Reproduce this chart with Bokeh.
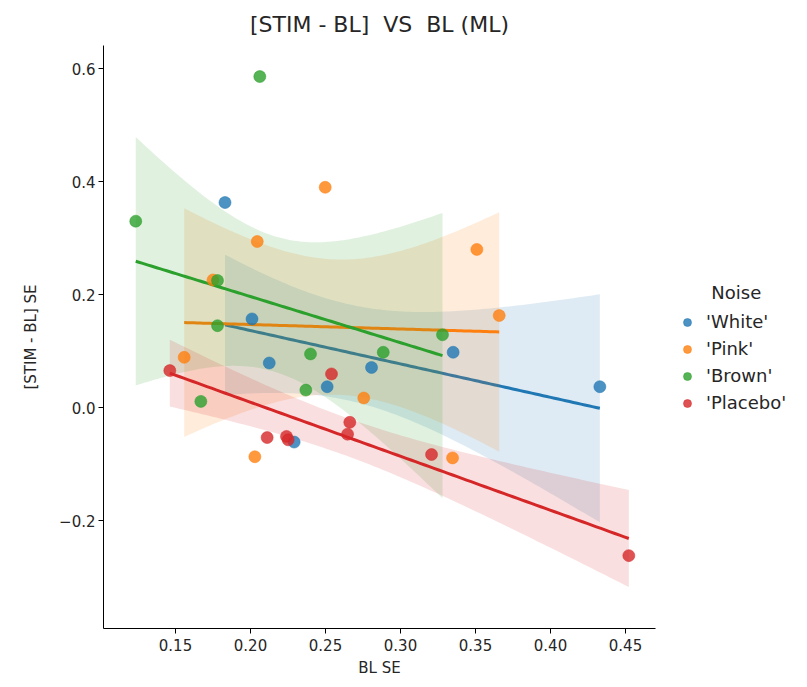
import numpy as np
from bokeh.plotting import figure
from bokeh.models import Legend, LegendItem, FixedTicker, CustomJSTickFormatter, Range1d
from bokeh.embed import file_html
from bokeh.resources import INLINE

# ---- data ----
groups = ["'White'", "'Pink'", "'Brown'", "'Placebo'"]
colors = ["#1f77b4", "#ff7f0e", "#2ca02c", "#d62728"]

white_x = [0.183, 0.201, 0.2125, 0.2511, 0.2291, 0.2807, 0.3351, 0.4329]
white_y = [0.363, 0.157, 0.079, 0.037, -0.061, 0.071, 0.098, 0.037]

pink_x = [0.2498, 0.2045, 0.175, 0.1558, 0.2755, 0.2029, 0.3509, 0.3658, 0.3347]
pink_y = [0.390, 0.294, 0.226, 0.089, 0.017, -0.087, 0.280, 0.163, -0.089]

brown_x = [0.2062, 0.1235, 0.178, 0.178, 0.240, 0.2369, 0.1669, 0.328, 0.2885]
brown_y = [0.586, 0.330, 0.225, 0.145, 0.095, 0.031, 0.011, 0.129, 0.098]

placebo_x = [0.1462, 0.254, 0.2662, 0.2647, 0.2111, 0.224, 0.2251, 0.3207, 0.4522]
placebo_y = [0.0655, 0.0596, -0.026, -0.047, -0.053, -0.051, -0.057, -0.083, -0.262]

x_ticks = [0.15, 0.20, 0.25, 0.30, 0.35, 0.40, 0.45]
y_ticks = [-0.2, 0.0, 0.2, 0.4, 0.6]

Z95 = 1.96  # normal-approximation 95% band for the fitted line

series = [(white_x, white_y), (pink_x, pink_y), (brown_x, brown_y), (placebo_x, placebo_y)]

FONT = "DejaVu Sans"
TXT = "#262626"

p = figure(frame_width=552, frame_height=583, output_backend="svg", toolbar_location=None,
           x_range=Range1d(0.102, 0.470), y_range=Range1d(-0.391, 0.641),
           min_border_left=103, min_border_right=0, min_border_top=45, min_border_bottom=59,
           title="[STIM - BL]\u00a0\u00a0VS\u00a0\u00a0BL (ML)")
p.title.align = "center"
p.title.text_font = FONT
p.title.text_font_size = "22px"
p.title.text_font_style = "normal"
p.title.text_color = TXT
p.title.standoff = 18
p.outline_line_color = None
p.xgrid.visible = False
p.ygrid.visible = False
p.background_fill_color = "white"
p.border_fill_color = "white"

for ax in (p.xaxis[0], p.yaxis[0]):
    ax.axis_line_color = "black"
    ax.major_tick_line_color = "black"
    ax.major_tick_out = 5
    ax.major_tick_in = 0
    ax.minor_tick_line_color = None
    ax.major_label_text_font = FONT
    ax.major_label_text_font_size = "15px"
    ax.major_label_text_color = TXT
    ax.axis_label_text_font = FONT
    ax.axis_label_text_font_size = "15px"
    ax.axis_label_text_font_style = "normal"
    ax.axis_label_text_color = TXT

p.xaxis.axis_label = "BL SE"
p.yaxis.axis_label = "[STIM - BL] SE"
p.yaxis.axis_label_standoff = 16
p.yaxis.major_label_standoff = 3
p.xaxis.ticker = FixedTicker(ticks=x_ticks)
p.yaxis.ticker = FixedTicker(ticks=y_ticks)
p.xaxis.formatter = CustomJSTickFormatter(code="return tick.toFixed(2);")
p.yaxis.formatter = CustomJSTickFormatter(code="return tick.toFixed(1).replace('-', '\u2212');")

items = []
scat = []
for (xs, ys), c, g in zip(series, colors, groups):
    x = np.array(xs)
    y = np.array(ys)
    n = len(x)
    slope, icpt = np.polyfit(x, y, 1)
    grid = np.linspace(x.min(), x.max(), 100)
    yhat = icpt + slope * grid
    resid = y - (icpt + slope * x)
    s = np.sqrt(np.sum(resid ** 2) / (n - 2))
    sxx = np.sum((x - x.mean()) ** 2)
    half = Z95 * s * np.sqrt(1.0 / n + (grid - x.mean()) ** 2 / sxx)
    p.varea(x=grid, y1=yhat - half, y2=yhat + half, fill_color=c, fill_alpha=0.15)
    p.line(grid, yhat, line_color=c, line_width=3)
    scat.append((xs, ys, c, g))

for xs, ys, c, g in scat:
    r = p.scatter(xs, ys, size=12, fill_color=c, fill_alpha=0.8, line_color=c, line_alpha=0.5, line_width=1)
    items.append(LegendItem(label=g, renderers=[r]))

legend = Legend(items=items, location=(22, 215), title="\u00a0\u00a0\u00a0\u00a0\u00a0\u00a0Noise",
                border_line_color=None, background_fill_alpha=0,
                label_text_font=FONT, label_text_font_size="18px", label_text_color=TXT,
                title_text_font=FONT, title_text_font_size="18px", title_text_font_style="normal",
                title_text_color=TXT, title_standoff=8,
                spacing=6, glyph_width=20, glyph_height=20, label_height=20, label_standoff=9,
                padding=8, margin=12)
p.add_layout(legend, "right")

open("out.html", "w").write(file_html(p, INLINE))
